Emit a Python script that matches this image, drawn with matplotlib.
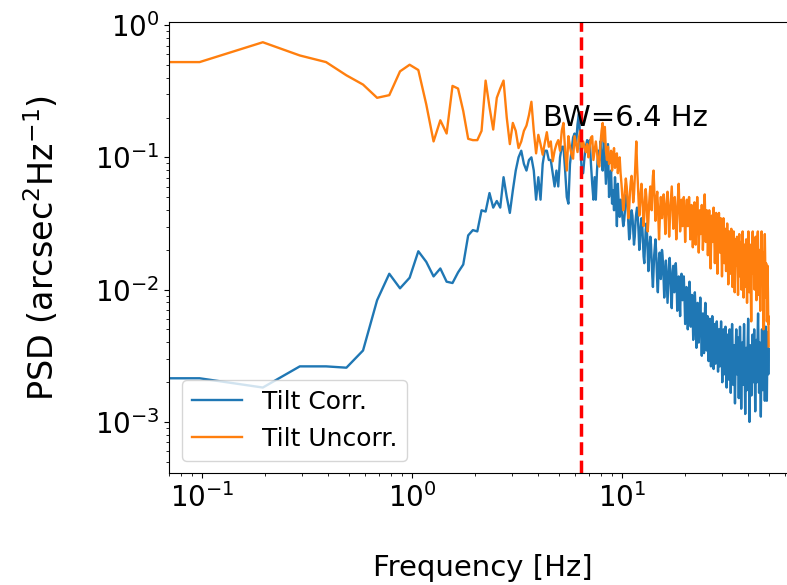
import numpy as np
import matplotlib
matplotlib.use("Agg")
import matplotlib.pyplot as plt

plt.rcParams['font.family'] = ['DejaVu Sans']
plt.rcParams['mathtext.default'] = 'regular'

# Welch PSD grid: fs = 100 Hz, nfft = 1024 -> bins of 0.09766 Hz (bin 0 = DC)
fs = 100.0
nfft = 1024
bandwidth = 6.4  # Hz

# log10 PSD (arcsec^2/Hz), bins 0..100
log_psd_corr_low = [
    -2.67, -2.67, -2.74, -2.58, -2.58, -2.59, -2.46, -2.08, -1.88, -1.99,
    -1.91, -1.71, -1.79, -1.90, -1.84, -1.94, -1.95, -1.87, -1.81, -1.59,
    -1.55, -1.56, -1.40, -1.41, -1.27, -1.38, -1.33, -1.38, -1.15, -1.30,
    -1.42, -1.25, -1.10, -1.00, -0.95, -1.05, -1.10, -1.02, -1.00, -1.10,
    -1.32, -1.15, -1.32, -1.05, -0.95, -0.95, -1.02, -1.02, -1.12, -1.22,
    -1.10, -1.22, -1.00, -0.92, -0.92, -1.10, -1.30, -1.35, -1.05, -0.95,
    -0.85, -0.82, -0.90, -0.75, -0.67, -0.90, -1.12, -1.12, -1.00, -0.92,
    -0.87, -0.95, -0.87, -1.05, -1.20, -1.32, -1.15, -1.32, -1.10, -0.95,
    -1.02, -0.88, -1.02, -1.10, -0.85, -1.00, -1.20, -1.05, -0.90, -1.30,
    -1.22, -1.10, -1.35, -1.25, -1.40, -1.15, -1.30, -1.52, -1.20, -1.35,
    -1.45,
]
# bins 101..512
log_psd_corr_high = [
    -1.32, -1.38, -1.45, -1.52, -1.48, -1.40, -1.30, -1.28, -1.35, -1.50, -1.62, -1.58, -1.46, -1.40, -1.44, -1.55, -1.66, -1.60, -1.48, -1.42,
    -1.38, -1.45, -1.56, -1.70, -1.64, -1.52, -1.46, -1.50, -1.62, -1.75, -1.80, -1.68, -1.55, -1.50, -1.58, -1.72, -1.86, -1.78, -1.65, -1.60,
    -1.66, -1.78, -1.90, -1.98, -1.86, -1.74, -1.68, -1.62, -1.70, -1.82, -1.95, -2.02, -1.88, -1.76, -1.72, -1.80, -1.92, -1.84, -1.70, -1.74,
    -1.82, -1.94, -2.06, -1.96, -1.84, -1.78, -1.86, -1.98, -2.10, -2.00, -1.88, -1.80, -1.76, -1.84, -1.96, -2.08, -2.14, -1.98, -1.86, -1.82,
    -1.90, -2.02, -1.94, -1.84, -1.80, -1.88, -2.00, -2.16, -2.06, -1.94, -1.90, -1.98, -2.10, -2.20, -2.04, -1.92, -1.88, -1.96, -2.08, -2.02,
    -1.94, -1.90, -2.00, -2.12, -2.26, -2.18, -2.06, -1.98, -2.04, -2.14, -2.30, -2.22, -2.08, -2.00, -1.94, -2.02, -2.16, -2.28, -2.20, -2.10,
    -2.04, -2.12, -2.24, -2.38, -2.30, -2.16, -2.08, -2.02, -2.10, -2.22, -2.34, -2.44, -2.30, -2.18, -2.10, -2.16, -2.28, -2.40, -2.32, -2.20,
    -2.12, -2.06, -2.14, -2.26, -2.40, -2.50, -2.36, -2.24, -2.18, -2.26, -2.38, -2.48, -2.36, -2.22, -2.14, -2.10, -2.20, -2.34, -2.46, -2.38,
    -2.26, -2.20, -2.28, -2.40, -2.54, -2.46, -2.34, -2.26, -2.22, -2.30, -2.44, -2.58, -2.50, -2.36, -2.28, -2.20, -2.26, -2.38, -2.52, -2.60,
    -2.46, -2.34, -2.26, -2.32, -2.44, -2.56, -2.48, -2.36, -2.28, -2.24, -2.30, -2.42, -2.56, -2.62, -2.50, -2.38, -2.30, -2.36, -2.48, -2.58,
    -2.50, -2.38, -2.30, -2.24, -2.32, -2.46, -2.60, -2.70, -2.56, -2.44, -2.36, -2.30, -2.38, -2.52, -2.64, -2.56, -2.42, -2.34, -2.28, -2.36,
    -2.48, -2.62, -2.74, -2.62, -2.50, -2.40, -2.34, -2.42, -2.54, -2.68, -2.58, -2.46, -2.36, -2.30, -2.38, -2.52, -2.66, -2.78, -2.64, -2.50,
    -2.40, -2.32, -2.26, -2.34, -2.46, -2.60, -2.72, -2.62, -2.50, -2.42, -2.48, -2.60, -2.76, -2.86, -2.70, -2.56, -2.44, -2.36, -2.30, -2.38,
    -2.50, -2.64, -2.56, -2.44, -2.36, -2.42, -2.56, -2.70, -2.82, -2.68, -2.54, -2.44, -2.36, -2.28, -2.34, -2.46, -2.60, -2.74, -2.90, -2.76,
    -2.60, -2.48, -2.40, -2.46, -2.58, -2.72, -2.62, -2.50, -2.40, -2.32, -2.26, -2.34, -2.48, -2.64, -2.80, -2.94, -2.78, -2.62, -2.52, -2.44,
    -2.50, -2.62, -2.76, -2.66, -2.54, -2.44, -2.36, -2.30, -2.22, -2.30, -2.44, -2.58, -2.72, -2.86, -3.00, -2.84, -2.68, -2.56, -2.48, -2.42,
    -2.48, -2.60, -2.72, -2.80, -2.66, -2.54, -2.46, -2.40, -2.34, -2.42, -2.56, -2.70, -2.62, -2.50, -2.42, -2.36, -2.30, -2.38, -2.52, -2.66,
    -2.80, -2.92, -2.76, -2.62, -2.52, -2.44, -2.38, -2.44, -2.56, -2.70, -2.60, -2.48, -2.40, -2.32, -2.24, -2.18, -2.26, -2.38, -2.52, -2.66,
    -2.78, -2.66, -2.54, -2.46, -2.40, -2.48, -2.60, -2.74, -2.86, -2.96, -2.80, -2.64, -2.52, -2.44, -2.36, -2.30, -2.38, -2.50, -2.64, -2.76,
    -2.66, -2.54, -2.44, -2.36, -2.28, -2.22, -2.30, -2.42, -2.56, -2.70, -2.84, -2.72, -2.58, -2.48, -2.40, -2.34, -2.28, -2.36, -2.48, -2.60,
    -2.72, -2.84, -2.70, -2.56, -2.46, -2.38, -2.32, -2.40, -2.52, -2.64, -2.56, -2.45,
]

log_psd_uncorr_low = [
    -0.28, -0.28, -0.13, -0.23, -0.28, -0.38, -0.45, -0.55, -0.53, -0.35,
    -0.30, -0.34, -0.60, -0.88, -0.72, -0.82, -0.46, -0.48, -0.65, -0.86,
    -0.87, -0.87, -0.80, -0.42, -0.62, -0.79, -0.55, -0.48, -0.42, -0.70,
    -0.90, -0.74, -0.80, -0.93, -0.88, -0.80, -0.76, -0.68, -0.58, -0.80,
    -0.97, -0.83, -0.90, -0.98, -0.89, -0.81, -0.92, -0.88, -1.03, -0.95,
    -0.90, -0.87, -0.95, -0.80, -0.74, -0.95, -1.10, -0.84, -0.92, -0.98,
    -1.01, -0.84, -0.90, -0.96, -0.85, -0.80, -0.95, -0.88, -0.92, -0.96,
    -0.90, -1.00, -0.92, -0.85, -0.84, -1.02, -0.95, -0.88, -0.96, -1.05,
    -1.07, -0.90, -0.80, -0.74, -0.88, -0.77, -0.95, -1.02, -0.92, -1.05,
    -1.02, -0.95, -1.10, -1.00, -0.93, -1.08, -1.00, -0.97, -1.12, -1.05,
    -1.00,
]
log_psd_uncorr_high = [
    -1.12, -1.20, -1.30, -1.40, -1.34, -1.24, -1.16, -1.22, -1.32, -1.46, -1.38, -1.26, -1.18, -1.14, -1.22, -1.34, -1.28, -1.16, -1.02, -0.88,
    -1.06, -1.20, -1.32, -1.44, -1.36, -1.26, -1.20, -1.28, -1.40, -1.52, -1.44, -1.32, -1.24, -1.30, -1.42, -1.56, -1.48, -1.36, -1.28, -1.22,
    -1.30, -1.40, -1.24, -1.14, -1.10, -1.22, -1.36, -1.48, -1.40, -1.30, -1.26, -1.36, -1.50, -1.62, -1.50, -1.38, -1.30, -1.36, -1.46, -1.40,
    -1.32, -1.28, -1.36, -1.48, -1.58, -1.46, -1.36, -1.30, -1.26, -1.34, -1.46, -1.60, -1.52, -1.40, -1.34, -1.28, -1.22, -1.32, -1.44, -1.54,
    -1.46, -1.36, -1.30, -1.38, -1.50, -1.62, -1.52, -1.42, -1.34, -1.26, -1.20, -1.30, -1.42, -1.56, -1.48, -1.38, -1.32, -1.40, -1.52, -1.44,
    -1.36, -1.30, -1.38, -1.50, -1.64, -1.54, -1.44, -1.38, -1.32, -1.40, -1.52, -1.44, -1.36, -1.30, -1.38, -1.50, -1.62, -1.52, -1.42, -1.36,
    -1.44, -1.56, -1.68, -1.58, -1.46, -1.40, -1.34, -1.42, -1.54, -1.66, -1.56, -1.46, -1.38, -1.30, -1.36, -1.48, -1.60, -1.72, -1.60, -1.48,
    -1.40, -1.46, -1.58, -1.50, -1.42, -1.36, -1.44, -1.56, -1.70, -1.62, -1.50, -1.42, -1.34, -1.28, -1.38, -1.50, -1.64, -1.56, -1.46, -1.40,
    -1.48, -1.60, -1.74, -1.64, -1.52, -1.46, -1.40, -1.48, -1.60, -1.72, -1.84, -1.70, -1.58, -1.50, -1.44, -1.52, -1.64, -1.56, -1.46, -1.38,
    -1.46, -1.58, -1.70, -1.80, -1.68, -1.56, -1.48, -1.42, -1.50, -1.62, -1.76, -1.88, -1.74, -1.62, -1.54, -1.48, -1.42, -1.50, -1.62, -1.72,
    -1.64, -1.54, -1.46, -1.52, -1.64, -1.78, -1.90, -1.78, -1.66, -1.58, -1.52, -1.46, -1.54, -1.66, -1.80, -1.70, -1.60, -1.54, -1.62, -1.74,
    -1.86, -1.76, -1.64, -1.56, -1.50, -1.58, -1.70, -1.84, -1.96, -1.82, -1.70, -1.62, -1.56, -1.64, -1.76, -1.88, -1.78, -1.68, -1.60, -1.54,
    -1.62, -1.74, -1.86, -1.98, -1.86, -1.74, -1.66, -1.60, -1.56, -1.64, -1.76, -1.90, -2.02, -1.88, -1.76, -1.68, -1.62, -1.70, -1.82, -1.74,
    -1.66, -1.60, -1.68, -1.80, -1.92, -2.04, -1.90, -1.78, -1.70, -1.62, -1.58, -1.66, -1.78, -1.90, -1.82, -1.72, -1.64, -1.72, -1.86, -2.00,
    -1.88, -1.76, -1.68, -1.62, -1.56, -1.64, -1.76, -1.90, -2.06, -1.92, -1.80, -1.72, -1.66, -1.74, -1.86, -1.98, -1.86, -1.76, -1.68, -1.62,
    -1.70, -1.82, -1.96, -2.10, -1.96, -1.84, -1.74, -1.66, -1.60, -1.56, -1.64, -1.76, -1.90, -2.02, -1.90, -1.80, -1.72, -1.66, -1.74, -1.88,
    -2.00, -2.14, -2.24, -2.06, -1.92, -1.82, -1.74, -1.68, -1.62, -1.56, -1.64, -1.76, -1.88, -1.80, -1.72, -1.66, -1.74, -1.86, -2.00, -1.90,
    -1.80, -1.72, -1.66, -1.60, -1.68, -1.80, -1.94, -2.08, -1.96, -1.86, -1.78, -1.70, -1.64, -1.58, -1.56, -1.64, -1.76, -1.90, -2.04, -1.94,
    -1.84, -1.76, -1.70, -1.78, -1.90, -2.02, -2.16, -2.00, -1.88, -1.80, -1.72, -1.66, -1.60, -1.56, -1.64, -1.76, -1.88, -1.80, -1.72, -1.78,
    -1.90, -2.04, -2.20, -2.30, -2.12, -1.98, -1.86, -1.78, -1.70, -1.64, -1.58, -1.66, -1.78, -1.92, -2.06, -1.96, -1.86, -1.80, -1.88, -2.00,
    -2.12, -2.24, -2.08, -1.96, -1.88, -1.82, -1.90, -2.02, -2.14, -2.26, -2.20, -2.43,
]

psd_corr = 10.0 ** np.array(log_psd_corr_low + log_psd_corr_high)
psd_uncorr = 10.0 ** np.array(log_psd_uncorr_low + log_psd_uncorr_high)
freq_corr = np.arange(len(psd_corr)) * fs / nfft
freq_uncorr = np.arange(len(psd_uncorr)) * fs / nfft

fig = plt.figure(figsize=(7.87, 5.85), dpi=100)
ax = fig.add_axes([169 / 787, 1 - 473 / 585, (797 - 169) / 787, (473 - 22) / 585])

ax.plot(freq_corr, psd_corr, color='#1f77b4', lw=1.7, label='Tilt Corr.')
ax.plot(freq_uncorr, psd_uncorr, color='#ff7f0e', lw=1.7, label='Tilt Uncorr.')
ax.set_xscale('log')
ax.set_yscale('log')
ax.axvline(bandwidth, color='red', ls='--', lw=2.5)
ax.text(4.2, 0.2, 'BW=%.1f Hz' % bandwidth, fontsize=21, ha='left', va='center')

ax.set_xlim(10 ** -1.156, 10 ** 1.834)
ax.set_ylim(10 ** -3.386, 10 ** 0.023)

ax.tick_params(axis='both', which='major', labelsize=20)
ax.set_xlabel('Frequency [Hz]', fontsize=21, labelpad=30)
ax.set_ylabel('PSD (arcsec$^2$Hz$^{-1}$)', fontsize=24, labelpad=24)

ax.legend(loc='lower left', fontsize=18, bbox_to_anchor=(0.0, 0.0))

fig.savefig('out.png', dpi=100)
